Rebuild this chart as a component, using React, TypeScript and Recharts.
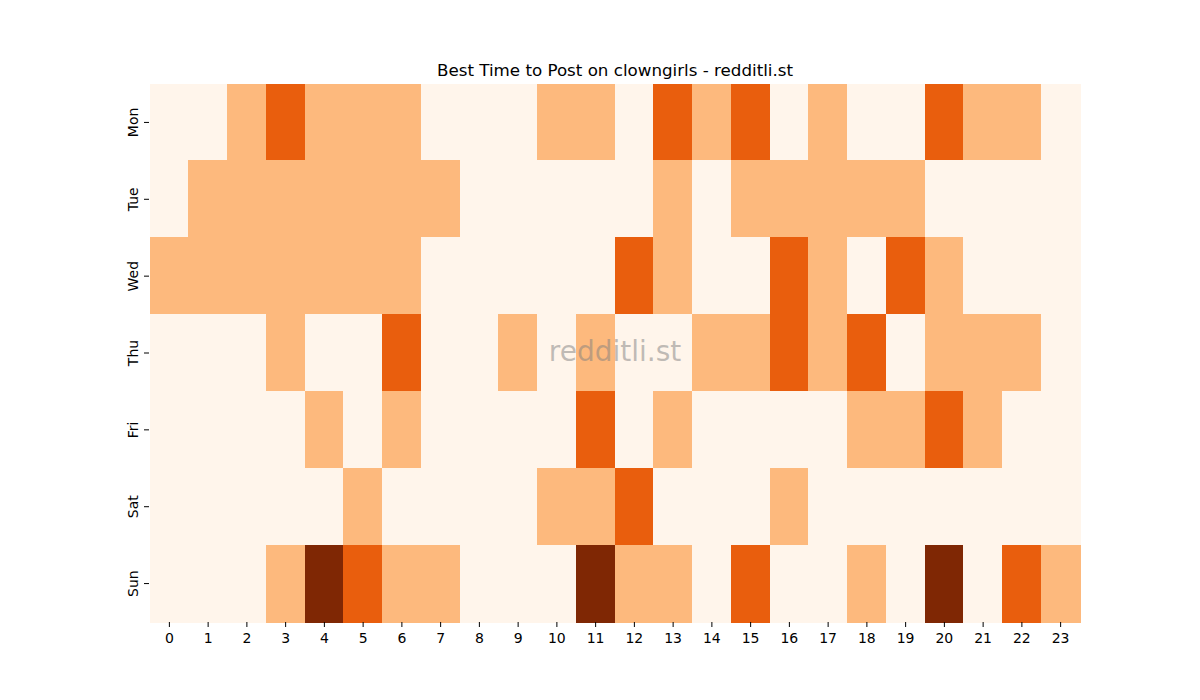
import React from "react";
import { BarChart, Bar, XAxis, YAxis, Cell } from "recharts";

const days = ["Mon", "Tue", "Wed", "Thu", "Fri", "Sat", "Sun"];
const hourTicks = [0, 1, 2, 3, 4, 5, 6, 7, 8, 9, 10, 11, 12, 13, 14, 15, 16, 17, 18, 19, 20, 21, 22, 23];

// activity level per hour (0 = quiet .. 3 = best)
const mon = [0, 0, 1, 2, 1, 1, 1, 0, 0, 0, 1, 1, 0, 2, 1, 2, 0, 1, 0, 0, 2, 1, 1, 0];
const tue = [0, 1, 1, 1, 1, 1, 1, 1, 0, 0, 0, 0, 0, 1, 0, 1, 1, 1, 1, 1, 0, 0, 0, 0];
const wed = [1, 1, 1, 1, 1, 1, 1, 0, 0, 0, 0, 0, 2, 1, 0, 0, 2, 1, 0, 2, 1, 0, 0, 0];
const thu = [0, 0, 0, 1, 0, 0, 2, 0, 0, 1, 0, 1, 0, 0, 1, 1, 2, 1, 2, 0, 1, 1, 1, 0];
const fri = [0, 0, 0, 0, 1, 0, 1, 0, 0, 0, 0, 2, 0, 1, 0, 0, 0, 0, 1, 1, 2, 1, 0, 0];
const sat = [0, 0, 0, 0, 0, 1, 0, 0, 0, 0, 1, 1, 2, 0, 0, 0, 1, 0, 0, 0, 0, 0, 0, 0];
const sun = [0, 0, 0, 1, 3, 2, 1, 1, 0, 0, 0, 3, 1, 1, 0, 2, 0, 0, 1, 0, 3, 0, 2, 1];

const levels = [mon, tue, wed, thu, fri, sat, sun];
const palette = ["#fff5eb", "#fdb97d", "#e95e0d", "#7f2704"];

// each row is a day; every hour is a unit-wide stacked segment
const rows = days.map((day) => {
    const row: Record<string, string | number> = { day };
    hourTicks.forEach((h) => {
        row["h" + h] = 1;
    });
    return row;
});

const font = "DejaVu Sans, sans-serif";

const DayTick = (props: any) => {
    const { x, y, payload } = props;
    return (
        <g>
            <line x1={x + 2} x2={x + 7} y1={y} y2={y} stroke="#000" strokeWidth={1} />
            <text
                x={x - 4}
                y={y}
                transform={`rotate(-90, ${x - 4}, ${y})`}
                textAnchor="middle"
                fontSize={14}
                fontFamily={font}
                fill="#000"
            >
                {payload.value}
            </text>
        </g>
    );
};

const HourTick = (props: any) => {
    const { x, y, payload } = props;
    return (
        <g>
            <line x1={x} x2={x} y1={y - 8} y2={y - 3} stroke="#000" strokeWidth={1} />
            <text x={x} y={y + 13} textAnchor="middle" fontSize={14} fontFamily={font} fill="#000">
                {payload.value - 0.5}
            </text>
        </g>
    );
};

export default function App() {
    return (
        <div style={{ position: "absolute", left: 0, top: 0, width: 1200, height: 700, background: "#fff" }}>
            <div
                style={{
                    position: "absolute",
                    left: 0,
                    width: 1230,
                    top: 60,
                    textAlign: "center",
                    fontFamily: font,
                    fontSize: 16.7,
                    color: "#000",
                }}
            >
                Best Time to Post on clowngirls - redditli.st
            </div>
            <BarChart
                width={1200}
                height={700}
                data={rows}
                layout="vertical"
                barCategoryGap={0}
                margin={{ top: 84, right: 120, bottom: 48, left: 120 }}
            >
                <XAxis
                    type="number"
                    domain={[0, 24]}
                    ticks={hourTicks.map((h) => h + 0.5)}
                    interval={0}
                    axisLine={false}
                    tickLine={false}
                    tick={<HourTick />}
                    height={30}
                />
                <YAxis
                    type="category"
                    dataKey="day"
                    axisLine={false}
                    tickLine={false}
                    tick={<DayTick />}
                    width={30}
                />
                {hourTicks.map((h) => (
                    <Bar key={h} dataKey={"h" + h} stackId="a" isAnimationActive={false}>
                        {days.map((d, i) => (
                            <Cell
                                key={d}
                                fill={palette[levels[i][h]]}
                                stroke={palette[levels[i][h]]}
                                strokeWidth={1}
                                shapeRendering="crispEdges"
                            />
                        ))}
                    </Bar>
                ))}
            </BarChart>
            <div
                style={{
                    position: "absolute",
                    left: 0,
                    width: 1230,
                    top: 335,
                    textAlign: "center",
                    fontFamily: font,
                    fontSize: 28,
                    color: "rgba(128,128,128,0.5)",
                    pointerEvents: "none",
                }}
            >
                redditli.st
            </div>
        </div>
    );
}
